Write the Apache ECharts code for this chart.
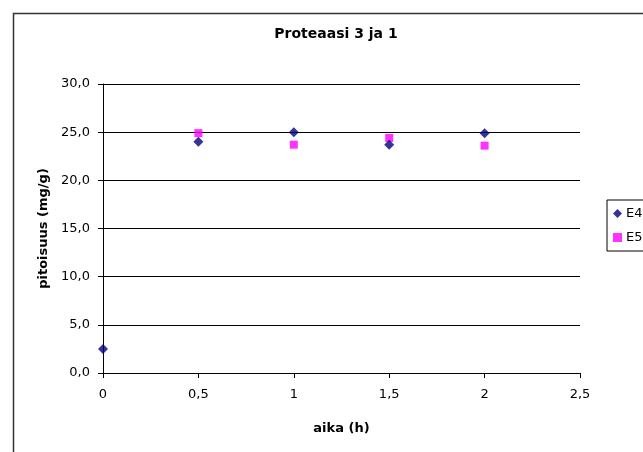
<!DOCTYPE html>
<html><head><meta charset="utf-8">
<script src="https://cdn.jsdelivr.net/npm/echarts@6/dist/echarts.min.js"></script>
<style>html,body{margin:0;padding:0;background:#fff}#c{width:643px;height:452px}</style>
</head><body><div id="c"></div>
<script>
const timesE4 = [0, 0.5, 1, 1.5, 2];
const valuesE4 = [2.5, 24.0, 25.0, 23.7, 24.9];
const timesE5 = [0.5, 1, 1.5, 2];
const valuesE5 = [24.9, 23.7, 24.4, 23.6];
const seriesNames = ['E4', 'E5'];
const titleText = 'Proteaasi 3 ja 1';
const xName = 'aika (h)';
const yName = 'pitoisuus (mg/g)';

const font = 'DejaVu Sans, Arial, sans-serif';
const chart = echarts.init(document.getElementById('c'), null, {renderer: 'canvas'});
const fmt = v => String(v).replace('.', ',');
chart.setOption({
  animation: false,
  backgroundColor: '#fff',
  title: {
    text: titleText, left: 331, top: 22, textAlign: 'center',
    textStyle: {fontFamily: font, fontSize: 14, fontWeight: 'bold', color: '#000'}
  },
  graphic: [{
    type: 'rect', left: 11, top: 11, shape: {width: 700, height: 520},
    style: {fill: 'none', stroke: '#333', lineWidth: 1.5}, silent: true
  }],
  legend: {
    orient: 'vertical', left: 607, top: 200, itemGap: 11,
    borderColor: '#000', borderWidth: 1, padding: [7, 20, 7, 6],
    itemWidth: 9, itemHeight: 9,
    textStyle: {fontFamily: font, fontSize: 13, color: '#000', padding: [0, 0, 0, -1]},
    data: [{name: seriesNames[0], icon: 'diamond'}, {name: seriesNames[1], icon: 'rect'}]
  },
  grid: {left: 103, right: 63, top: 84, bottom: 79},
  xAxis: {
    type: 'value', min: 0, max: 2.5, interval: 0.5,
    name: xName, nameLocation: 'middle', nameGap: 49,
    nameTextStyle: {fontFamily: font, fontSize: 13, fontWeight: 'bold', color: '#000'},
    axisLine: {show: true, lineStyle: {color: '#000', width: 1}},
    axisTick: {show: true, length: 5, lineStyle: {color: '#000'}},
    axisLabel: {fontFamily: font, fontSize: 13, color: '#000', margin: 15, formatter: v => fmt(v)},
    splitLine: {show: false}
  },
  yAxis: {
    type: 'value', min: 0, max: 30, interval: 5,
    name: yName, nameLocation: 'middle', nameGap: 53, nameRotate: 90,
    nameTextStyle: {fontFamily: font, fontSize: 13, fontWeight: 'bold', color: '#000'},
    axisLine: {show: true, lineStyle: {color: '#000', width: 1}},
    axisTick: {show: true, length: 5, lineStyle: {color: '#000'}},
    axisLabel: {fontFamily: font, fontSize: 13, color: '#000', margin: 13, formatter: v => v.toFixed(1).replace('.', ',')},
    splitLine: {show: true, lineStyle: {color: '#000', width: 1}}
  },
  series: [
    {name: seriesNames[0], type: 'scatter', symbol: 'diamond', symbolSize: 10,
     itemStyle: {color: '#000080'}, data: timesE4.map((t, i) => [t, valuesE4[i]]), z: 3},
    {name: seriesNames[1], type: 'scatter', symbol: 'rect', symbolSize: 8,
     itemStyle: {color: '#ff00ff'}, data: timesE5.map((t, i) => [t, valuesE5[i]]), z: 2}
  ]
});
</script></body></html>
